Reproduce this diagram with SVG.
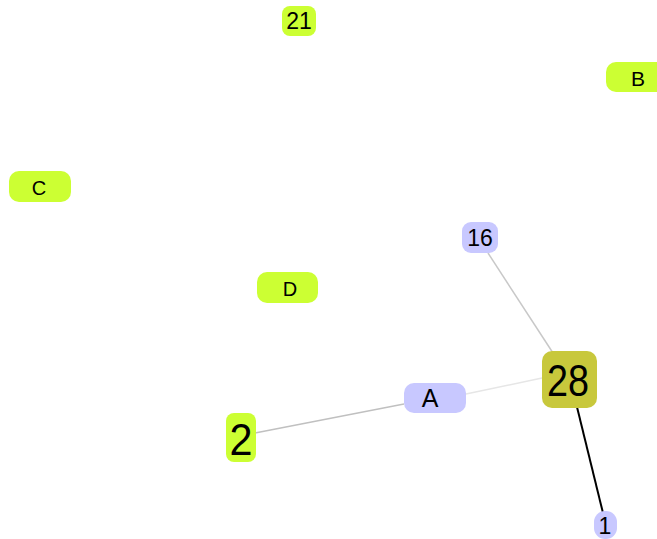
<svg xmlns="http://www.w3.org/2000/svg" width="657" height="539" viewBox="0 0 657 539">
  <style>
    .lime { fill: #ccff33; }
    .lav { fill: #c8c8ff; }
    .olive { fill: #c8c83c; }
    text { font-family: "Liberation Sans", "DejaVu Sans", sans-serif; fill: #000; text-anchor: middle; dominant-baseline: central; }
    .edge { fill: none; }
  </style>
  <rect width="657" height="539" fill="#ffffff"/>
  <g id="connectors">
    <line class="edge" x1="488" y1="253" x2="553" y2="353" stroke="#c8c8c8" stroke-width="1.5"/>
    <line class="edge" x1="466" y1="394" x2="542" y2="378" stroke="#e6e6e6" stroke-width="1.5"/>
    <line class="edge" x1="255" y1="433" x2="404" y2="404" stroke="#c0c0c0" stroke-width="1.5"/>
    <line class="edge" x1="577" y1="407" x2="603" y2="513" stroke="#000000" stroke-width="2"/>
  </g>
  <g id="n21">
    <rect class="lime" x="282" y="6" width="34" height="30" rx="8"/>
    <text x="299" y="21" font-size="23">21</text>
  </g>
  <g id="nB">
    <rect class="lime" x="606" y="62" width="64" height="30" rx="10"/>
    <text x="638" y="78" font-size="21">B</text>
  </g>
  <g id="nC">
    <rect class="lime" x="9" y="171" width="62" height="31" rx="10"/>
    <text x="39" y="188" font-size="20">C</text>
  </g>
  <g id="nD">
    <rect class="lime" x="257" y="272" width="61" height="31" rx="10"/>
    <text x="290" y="289" font-size="20">D</text>
  </g>
  <g id="n16">
    <rect class="lav" x="462" y="222" width="36" height="31" rx="9"/>
    <text x="480" y="238" font-size="23">16</text>
  </g>
  <g id="n28">
    <rect class="olive" x="542" y="351" width="55" height="57" rx="10"/>
    <text x="568" y="380" font-size="45" textLength="42" lengthAdjust="spacingAndGlyphs">28</text>
  </g>
  <g id="nA">
    <rect class="lav" x="404" y="383" width="62" height="30" rx="10"/>
    <text x="430" y="398" font-size="25">A</text>
  </g>
  <g id="n2">
    <rect class="lime" x="226" y="413" width="30" height="49" rx="8"/>
    <text x="241" y="439" font-size="45" textLength="23" lengthAdjust="spacingAndGlyphs">2</text>
  </g>
  <g id="n1">
    <rect class="lav" x="594" y="511" width="23" height="28" rx="11"/>
    <text x="605" y="526" font-size="23">1</text>
  </g>
</svg>
